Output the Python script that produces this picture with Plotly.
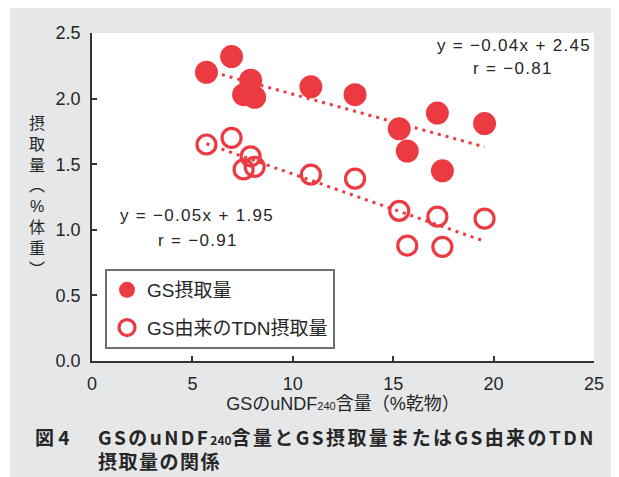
import numpy as np
import plotly.graph_objects as go

# ---- data ----
undf240 = [5.7, 6.95, 7.9, 7.55, 8.1, 10.9, 13.1, 15.3, 17.2, 19.55, 15.7, 17.45]
gs_intake = [2.20, 2.32, 2.14, 2.03, 2.01, 2.09, 2.03, 1.77, 1.89, 1.81, 1.60, 1.45]
tdn_intake = [1.65, 1.70, 1.56, 1.46, 1.48, 1.42, 1.39, 1.145, 1.10, 1.085, 0.88, 0.87]
series_names = ["GS摂取量", "GS由来のTDN摂取量"]
eq_texts = ["y = −0.04x + 2.45", "r = −0.81", "y = −0.05x + 1.95", "r = −0.91"]
x_ticks = [0, 5, 10, 15, 20, 25]
y_ticks = [0.0, 0.5, 1.0, 1.5, 2.0, 2.5]

RED = "#EC3A42"
GRAY_BG = "#E6E7E8"
TXT = "#262626"
FONT = "Liberation Sans, Noto Sans CJK JP, sans-serif"

OFF = 8                      # page body margin
W, H = 611, 469              # figure size (page minus body margin)
L, T = 92 - OFF, 33 - OFF    # plot area in figure px
R = W - (594 - OFF)
B = H - (361 - OFF)
pw, ph = W - L - R, H - T - B


def pxx(px):   # page px -> paper x
    return (px - OFF - L) / pw


def pxy(py):   # page px -> paper y
    return (H - B - (py - OFF)) / ph


def spaced(s, sp):
    return f"<span style='letter-spacing:{sp}px'>{s}</span>"


fig = go.Figure()

# regression lines (least squares from the data)
xs = np.array(undf240)
xline = np.array([xs.min(), xs.max()])
for ys in (gs_intake, tdn_intake):
    k, b = np.polyfit(xs, np.array(ys), 1)
    fig.add_trace(go.Scatter(
        x=xline, y=k * xline + b, mode="lines",
        line=dict(color=RED, width=3, dash="3px,5px"),
        showlegend=False, hoverinfo="skip"))

fig.add_trace(go.Scatter(
    x=undf240, y=gs_intake, mode="markers", name=series_names[0],
    marker=dict(symbol="circle", size=23, color=RED, line=dict(width=0)),
    legendgroup="a"))
fig.add_trace(go.Scatter(
    x=undf240, y=tdn_intake, mode="markers", name=series_names[1],
    marker=dict(symbol="circle-open", size=19, color=RED, line=dict(width=3.2, color=RED)),
    legendgroup="b"))

EQF = dict(size=17, color=TXT, family=FONT)
ann = []
ann.append(dict(x=pxx(514), y=pxy(45), xref="paper", yref="paper", text=spaced(eq_texts[0], 1.3),
                showarrow=False, font=EQF, xanchor="center", yanchor="middle"))
ann.append(dict(x=pxx(513), y=pxy(69), xref="paper", yref="paper", text=spaced(eq_texts[1], 1.3),
                showarrow=False, font=EQF, xanchor="center", yanchor="middle"))
ann.append(dict(x=pxx(197), y=pxy(215), xref="paper", yref="paper", text=spaced(eq_texts[2], 1.3),
                showarrow=False, font=EQF, xanchor="center", yanchor="middle"))
ann.append(dict(x=pxx(198), y=pxy(240), xref="paper", yref="paper", text=spaced(eq_texts[3], 1.3),
                showarrow=False, font=EQF, xanchor="center", yanchor="middle"))

# vertical y-axis title
ytitle = "<br>".join(list("摂取量︵%体重︶"))
ann.append(dict(x=pxx(37), y=pxy(196), xref="paper", yref="paper", text=ytitle,
                showarrow=False, font=dict(size=16, color=TXT, family=FONT),
                xanchor="center", yanchor="middle"))

# caption
CAP = dict(size=19, color=TXT, family="Noto Sans CJK JP, Liberation Sans, sans-serif")
ann.append(dict(x=pxx(33), y=pxy(436), xref="paper", yref="paper",
                text="<b>図 4</b>", showarrow=False, font=CAP, xanchor="left", yanchor="middle"))
ann.append(dict(x=pxx(96), y=pxy(436), xref="paper", yref="paper",
                text="<b>" + spaced("GSのuNDF", 2.4) + "<span style='font-size:12px'>240</span>"
                     + spaced("含量とGS摂取量またはGS由来のTDN", 2.4) + "</b>",
                showarrow=False, font=CAP, xanchor="left", yanchor="middle"))
ann.append(dict(x=pxx(96), y=pxy(460), xref="paper", yref="paper",
                text="<b>" + spaced("摂取量の関係", 1.5) + "</b>", showarrow=False, font=CAP,
                xanchor="left", yanchor="middle"))

shapes = [
    dict(type="rect", xref="paper", yref="paper", x0=pxx(0), x1=pxx(10),
         y0=pxy(500), y1=pxy(0), fillcolor="white", line=dict(width=0), layer="below"),
]

axis_common = dict(showgrid=False, zeroline=False, showline=True, linecolor="#333",
                   linewidth=1.5, ticks="inside", ticklen=5, tickwidth=1.5, tickcolor="#333",
                   tickfont=dict(size=18, color=TXT, family=FONT))

fig.update_layout(
    width=W, height=H,
    margin=dict(l=L, r=R, t=T, b=B, pad=0),
    paper_bgcolor=GRAY_BG, plot_bgcolor="white",
    font=dict(family=FONT, color=TXT),
    xaxis=dict(range=[0, 25], tickvals=x_ticks, ticklabelstandoff=6,
               title=dict(text="GSのuNDF<span style='font-size:11px'>240</span>含量（%乾物）",
                          font=dict(size=18, color=TXT, family=FONT), standoff=2),
               **axis_common),
    yaxis=dict(range=[0, 2.5], tickvals=y_ticks, tickformat=".1f", ticklabelstandoff=6,
               **axis_common),
    legend=dict(x=pxx(105), y=pxy(269), xanchor="left", yanchor="top",
                bgcolor="white", bordercolor="#707070", borderwidth=2,
                font=dict(size=19, color=TXT, family=FONT), tracegroupgap=10,
                itemsizing="trace"),
    annotations=ann, shapes=shapes,
)

fig.write_html("out.html")
